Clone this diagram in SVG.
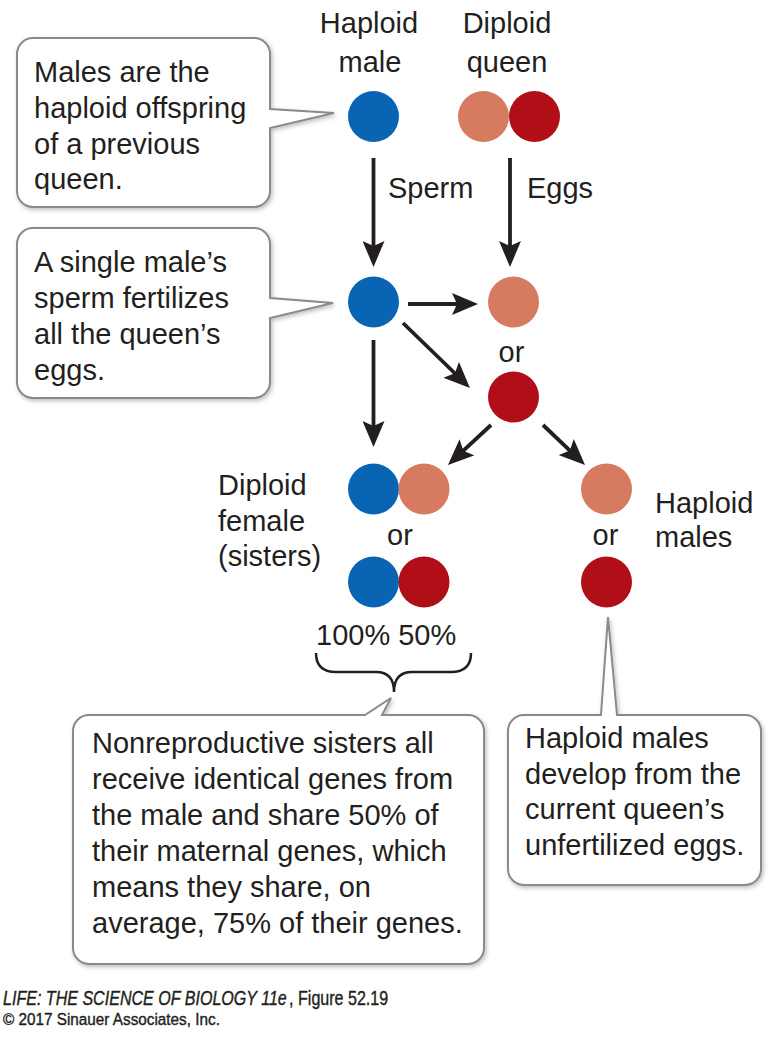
<svg xmlns="http://www.w3.org/2000/svg" width="778" height="1038" viewBox="0 0 778 1038">
<style>
  .t { font-family: "Liberation Sans", Arial, sans-serif; font-size: 29px; fill: #231f20; }
  .mid { text-anchor: middle; }
  .callout { fill: #ffffff; stroke: #8a8a8a; stroke-width: 2; filter: url(#shadow); }
  .arrow { stroke: #231f20; stroke-width: 3.8; fill: none; marker-end: url(#head); }
  .blue { fill: #0a64b4; }
  .salmon { fill: #d67a60; }
  .red { fill: #b10f18; }
  .foot { font-family: "Liberation Sans", Arial, sans-serif; fill: #231f20; stroke: #231f20; stroke-width: 0.4; }
</style>
<defs>
  <filter id="shadow" x="-10%" y="-10%" width="130%" height="130%">
    <feDropShadow dx="1.5" dy="2" stdDeviation="2" flood-color="#000" flood-opacity="0.25"/>
  </filter>
  <marker id="head" viewBox="0 0 26 22" refX="16" refY="11" markerWidth="26" markerHeight="22" markerUnits="userSpaceOnUse" orient="auto">
    <path d="M0,0 L26,11 L0,22 L5,11 Z" fill="#231f20"/>
  </marker>
</defs>
<rect width="778" height="1038" fill="#ffffff"/>

<g id="callout-males">
  <path class="callout" d="M33,38 H254 A16,16 0 0 1 270,54 V109 L334,113 L270,128 V191 A16,16 0 0 1 254,207 H33 A16,16 0 0 1 17,191 V54 A16,16 0 0 1 33,38 Z"/>
  <text class="t" x="34" y="82">Males are the</text>
  <text class="t" x="34" y="118">haploid offspring</text>
  <text class="t" x="34" y="154">of a previous</text>
  <text class="t" x="34" y="189">queen.</text>
</g>

<g id="callout-sperm">
  <path class="callout" d="M33,228 H254 A16,16 0 0 1 270,244 V298 L333,303 L270,318 V382 A16,16 0 0 1 254,398 H33 A16,16 0 0 1 17,382 V244 A16,16 0 0 1 33,228 Z"/>
  <text class="t" x="34" y="272">A single male’s</text>
  <text class="t" x="34" y="308">sperm fertilizes</text>
  <text class="t" x="34" y="344">all the queen’s</text>
  <text class="t" x="34" y="380">eggs.</text>
</g>

<g id="callout-sisters">
  <path class="callout" d="M89,715 H365 L391,698 L382,715 H468 A16,16 0 0 1 484,731 V948 A16,16 0 0 1 468,964 H89 A16,16 0 0 1 73,948 V731 A16,16 0 0 1 89,715 Z"/>
  <text class="t" x="92" y="753">Nonreproductive sisters all</text>
  <text class="t" x="92" y="789">receive identical genes from</text>
  <text class="t" x="92" y="825">the male and share 50% of</text>
  <text class="t" x="92" y="861">their maternal genes, which</text>
  <text class="t" x="92" y="897">means they share, on</text>
  <text class="t" x="92" y="933">average, 75% of their genes.</text>
</g>

<g id="callout-haploid-males">
  <path class="callout" d="M524,715 H601 L608,617 L617,715 H745 A16,16 0 0 1 761,731 V869 A16,16 0 0 1 745,885 H524 A16,16 0 0 1 508,869 V731 A16,16 0 0 1 524,715 Z"/>
  <text class="t" x="525" y="748">Haploid males</text>
  <text class="t" x="525" y="783.5">develop from the</text>
  <text class="t" x="525" y="819">current queen’s</text>
  <text class="t" x="525" y="854.5">unfertilized eggs.</text>
</g>

<g id="haploid-male">
  <text class="t mid" x="369" y="33">Haploid</text>
  <text class="t mid" x="370" y="72">male</text>
  <circle class="blue" cx="373.5" cy="116.5" r="25.5"/>
</g>

<g id="diploid-queen">
  <text class="t mid" x="507" y="33">Diploid</text>
  <text class="t mid" x="507" y="72">queen</text>
  <circle class="salmon" cx="483.5" cy="116.5" r="25.5"/>
  <circle class="red" cx="534.5" cy="116.5" r="25.5"/>
</g>

<g id="sperm">
  <circle class="blue" cx="373.5" cy="302" r="25.5"/>
</g>

<g id="eggs">
  <circle class="salmon" cx="513.5" cy="302" r="25.5"/>
  <text class="t mid" x="511.5" y="362">or</text>
  <circle class="red" cx="513.5" cy="397" r="25.5"/>
</g>

<g id="diploid-females">
  <text class="t" x="218" y="495">Diploid</text>
  <text class="t" x="218" y="531">female</text>
  <text class="t" x="218" y="566">(sisters)</text>
  <circle class="blue" cx="373.5" cy="489" r="25.5"/>
  <circle class="salmon" cx="424" cy="489" r="25.5"/>
  <text class="t mid" x="400" y="545">or</text>
  <circle class="blue" cx="373.5" cy="582" r="25.5"/>
  <circle class="red" cx="424" cy="582" r="25.5"/>
  <text class="t" x="316" y="645">100% 50%</text>
  <path d="M316,653 Q316,672 336,672 H376 Q394,672 394,692 Q394,672 412,672 H451 Q471,672 471,653" fill="none" stroke="#231f20" stroke-width="2.5"/>
</g>

<g id="haploid-males">
  <circle class="salmon" cx="606.5" cy="489" r="25.5"/>
  <text class="t mid" x="605.5" y="545">or</text>
  <circle class="red" cx="606.5" cy="582" r="25.5"/>
  <text class="t" x="655" y="513">Haploid</text>
  <text class="t" x="655" y="547">males</text>
</g>

<g id="connectors">
  <line class="arrow" x1="373.5" y1="158" x2="373.5" y2="257"/>
  <line class="arrow" x1="510" y1="158" x2="510" y2="257"/>
  <line class="arrow" x1="408" y1="304" x2="468" y2="304"/>
  <line class="arrow" x1="403" y1="323" x2="462.8" y2="381"/>
  <line class="arrow" x1="373.5" y1="340" x2="373.5" y2="437"/>
  <line class="arrow" x1="491" y1="425" x2="455.3" y2="458.2"/>
  <line class="arrow" x1="543" y1="425" x2="577.8" y2="458.1"/>
  <text class="t" x="388" y="198">Sperm</text>
  <text class="t" x="527" y="198">Eggs</text>
</g>

<g id="footer">
  <g transform="translate(3,1005) scale(0.765,1)">
    <text class="foot" x="0" y="0" font-size="21" font-style="italic">LIFE: THE SCIENCE OF BIOLOGY 11e</text>
    <text class="foot" x="374" y="0" font-size="21">, Figure 52.19</text>
  </g>
  <g transform="translate(3,1025) scale(0.9,1)">
    <text class="foot" x="0" y="0" font-size="17">© 2017 Sinauer Associates, Inc.</text>
  </g>
</g>
</svg>
